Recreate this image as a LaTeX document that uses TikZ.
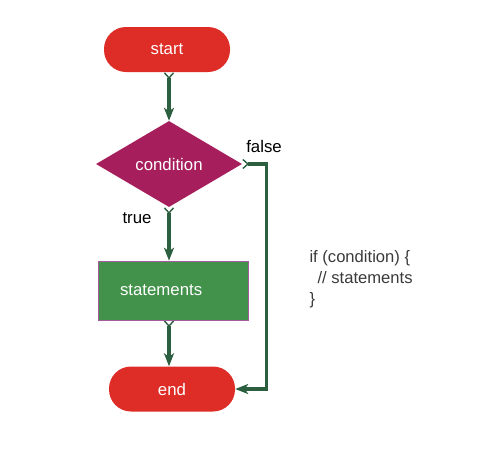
\documentclass[tikz,border=0pt]{standalone}
\usepackage{fontspec}
\setmainfont{Liberation Sans}
\usetikzlibrary{shapes.geometric,arrows.meta}
\definecolor{termred}{HTML}{DE2C27}
\definecolor{condpurple}{HTML}{A61F5C}
\definecolor{stmtgreen}{HTML}{43924B}
\definecolor{stmtborder}{HTML}{A45A9C}
\definecolor{flowgreen}{HTML}{2C5F40}
\definecolor{codegray}{HTML}{3A3A3A}
\tikzset{
	terminal/.style={shape=rectangle, fill=termred, rounded corners=22pt, minimum width=126pt, minimum height=45pt, inner sep=0, text=white, font=\fontsize{16.8}{20}\selectfont},
	decision/.style={shape=diamond, fill=condpurple, aspect=1.7, minimum width=146pt, minimum height=86pt, inner sep=0, text=white, font=\fontsize{16.8}{20}\selectfont},
	process/.style={shape=rectangle, fill=stmtgreen, draw=stmtborder, line width=0.6pt, minimum height=59pt, inner xsep=22pt, text width=106pt, align=left, text=white, font=\fontsize{16.8}{20}\selectfont},
	flow/.style={draw=flowgreen, line width=3.2pt, {Straight Barb[reversed, length=5pt, width=9pt, line width=1.4pt]}-{Stealth[length=13pt, width=10pt, inset=3.5pt]}},
	branch/.style={font=\fontsize{16.8}{20}\selectfont}
}
\begin{document}
\begin{tikzpicture}[x=1pt, y=-1pt]
			\useasboundingbox (0,0) rectangle (478,475);
			\node[terminal] (start) at (167,49.5){start};
			\node[decision] (cond) at (169,164){condition};
			\node[process] (stmt) at (173,290.5){statements};
			\node[terminal] (end) at (172,389){end};
			% labels of the two branches
			\node[branch] (false) at (264,146){false};
			\node[branch] (true) at (137,218){true};
			\node[anchor=west, align=left, text=codegray, font=\fontsize{16.6}{21}\selectfont] (code) at (306,279){if (condition) \{\\\hspace*{8pt}// statements\\\}};
			% connectors
			\draw[flow] (start.south -| cond.north) -- (cond.north);
			\draw[flow] (cond.south) -- (cond.south |- stmt.north);
			\draw[flow] (stmt.south -| cond.south) -- (cond.south |- end.north);
			\draw[flow, rounded corners=0] (cond.east) -- ++(24,0) |- (end.east);
		\end{tikzpicture}
\end{document}
